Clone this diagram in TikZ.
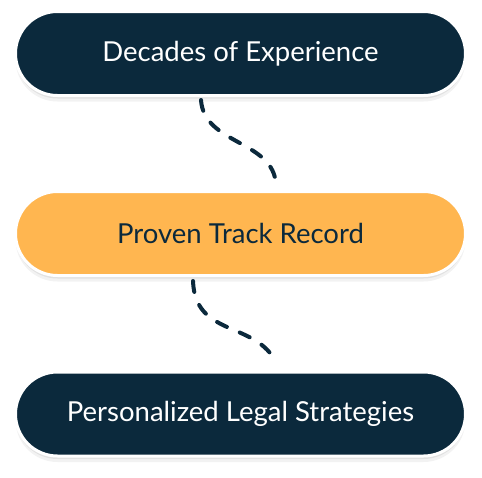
\documentclass[tikz,border=0pt]{standalone}
\usepackage{fontspec}
\setmainfont{Lato}
\usepackage{tikz}
\usetikzlibrary{positioning,shadows}
\definecolor{marino}{RGB}{11,41,60}
\definecolor{ambar}{RGB}{255,182,80}

\begin{document}
\begin{tikzpicture}[x=1pt, y=-1pt,
  pastilla/.style={rounded corners=42pt, minimum width=450pt,
    minimum height=84pt, draw=white, line width=3pt,
    font=\fontsize{27.5}{32}\selectfont,
    drop shadow={opacity=0.05, shadow xshift=0pt, shadow yshift=-6pt, fill=black},
    drop shadow={opacity=0.07, shadow xshift=0pt, shadow yshift=-3pt, fill=black}},
  enlace/.style={marino, line width=4pt, line cap=round,
    dash pattern=on 11pt off 14pt},
]
  \useasboundingbox (0,0) rectangle (482,477);
  % Pastillas
  \node[pastilla, fill=marino, text=white] (exp) at (240.5,53.5)
    {Decades of Experience};
  \node[pastilla, fill=ambar, text=marino] (rec) at (240.5,233.5)
    {Proven Track Record};
  \node[pastilla, fill=marino, text=white] (est) at (240.5,414)
    {Personalized Legal Strategies};
  % Enlaces punteados
  \coordinate (a1) at ([xshift=-39.5pt, yshift=-3pt]exp.south);
  \coordinate (a2) at ([xshift=35.5pt, yshift=5pt]rec.north);
  \draw[enlace] (a1) .. controls +(3,45) and +(-2,-45) .. (a2);
  \coordinate (b1) at ([xshift=-47.5pt, yshift=-4pt]rec.south);
  \coordinate (b2) at ([xshift=34pt, yshift=11pt]est.north);
  \draw[enlace] (b1) .. controls +(2,55) and +(-22,-38) .. (b2);
\end{tikzpicture}
\end{document}
